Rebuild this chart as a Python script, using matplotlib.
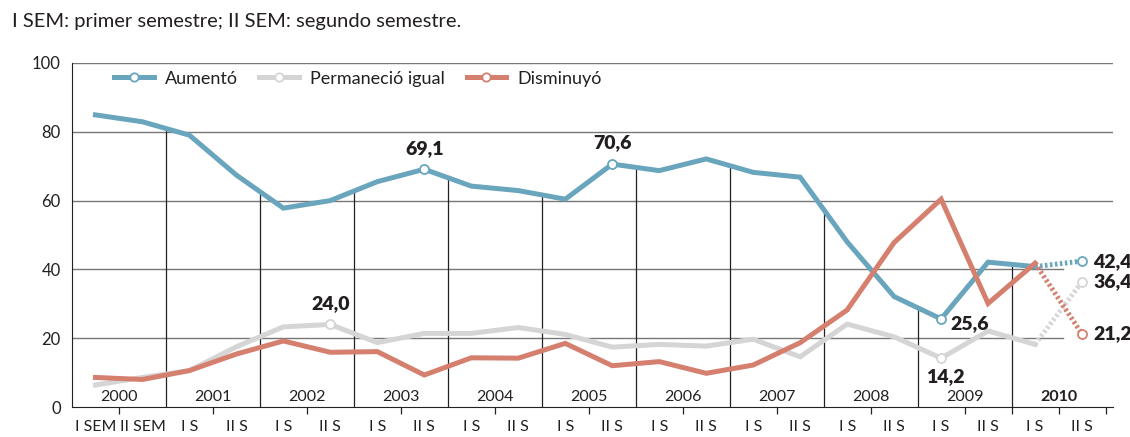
import matplotlib.pyplot as plt
import numpy as np

plt.rcParams['font.family'] = ['Lato', 'DejaVu Sans']

# semester labels along the bottom
sem_labels = ['I SEM', 'II SEM'] + ['I S', 'II S'] * 10
years = ['2000', '2001', '2002', '2003', '2004', '2005', '2006', '2007', '2008', '2009', '2010']

aumento = [84.9, 82.9, 79.0, 67.4, 57.8, 60.0, 65.5, 69.1, 64.2, 62.9, 60.4,
           70.6, 68.7, 72.1, 68.2, 66.8, 48.0, 32.1, 25.6, 42.1, 40.8, 42.4]
igual = [6.4, 8.6, 10.6, 17.5, 23.3, 24.0, 18.7, 21.4, 21.4, 23.1, 21.1,
         17.4, 18.2, 17.7, 19.7, 14.6, 24.1, 20.4, 14.2, 22.1, 18.2, 36.4]
disminuyo = [8.6, 8.0, 10.6, 15.4, 19.2, 15.9, 16.1, 9.3, 14.3, 14.2, 18.5,
             12.0, 13.2, 9.8, 12.2, 18.7, 28.2, 47.8, 60.4, 30.1, 41.8, 21.2]

BLUE = '#69a5bd'
GRAY = '#d5d5d5'
RED = '#d5806f'
TXT = '#231f20'

x = np.arange(len(sem_labels))

fig = plt.figure(figsize=(11.3, 4.37), dpi=100)
ax = fig.add_axes([0.0637, 0.0686, 0.9213, 0.7874])
ax.set_xlim(-0.5, 21.66)
ax.set_ylim(0, 100)

# horizontal grid lines (the lower ones stop before the end labels)
for yv in [60, 80, 100]:
    ax.axhline(yv, color='#777777', lw=1, zorder=1)
for yv in [20, 40]:
    ax.plot([-0.5, 20.6], [yv, yv], color='#777777', lw=1, zorder=1)

# year separators go up to the blue line
for k in range(1, len(years)):
    xb = 2 * k - 0.5
    top = np.interp(xb, x, aumento)
    ax.plot([xb, xb], [0, top], color='#222222', lw=0.9, zorder=1.5)

for k, yr in enumerate(years):
    ax.text(2 * k + 0.5 if k < 10 else 20.5, 3, yr, ha='center', va='center',
            fontsize=11.5, color=TXT, fontweight='bold' if yr == '2010' else 'normal')

series = [(aumento, BLUE, 'Aumentó'), (igual, GRAY, 'Permaneció igual'),
          (disminuyo, RED, 'Disminuyó')]
for vals, col, lab in series:
    ax.plot(x[:21], vals[:21], color=col, lw=3.6, solid_joinstyle='miter', zorder=3)
    ax.plot(x[20:], vals[20:], color=col, lw=3.6, dashes=(0.5, 0.5), zorder=3)
    ax.plot([], [], color=col, lw=3.6, marker='o', ms=6, mfc='white', mew=1.3,
            label=lab)

# highlighted points
marks = [(aumento, 7, BLUE), (aumento, 11, BLUE), (aumento, 18, BLUE), (aumento, 21, BLUE),
         (igual, 5, GRAY), (igual, 18, GRAY), (igual, 21, GRAY), (disminuyo, 21, RED)]
for vals, i, col in marks:
    ax.plot(x[i], vals[i], 'o', ms=6.5, mfc='white', mec=col, mew=1.3, zorder=4)

def lab(v):
    return f'{v:.1f}'.replace('.', ',')

fs = 14
fw = 'heavy'
ax.annotate(lab(aumento[7]), (x[7], aumento[7]), xytext=(0, 9), textcoords='offset points',
            ha='center', va='bottom', fontsize=fs, fontweight=fw, color=TXT)
ax.annotate(lab(aumento[11]), (x[11], aumento[11]), xytext=(0, 9), textcoords='offset points',
            ha='center', va='bottom', fontsize=fs, fontweight=fw, color=TXT)
ax.annotate(lab(igual[5]), (x[5], igual[5]), xytext=(0, 9), textcoords='offset points',
            ha='center', va='bottom', fontsize=fs, fontweight=fw, color=TXT)
ax.annotate(lab(aumento[18]), (x[18], aumento[18]), xytext=(7, -3), textcoords='offset points',
            ha='left', va='center', fontsize=fs, fontweight=fw, color=TXT)
ax.annotate(lab(igual[18]), (x[18], igual[18]), xytext=(3, -7), textcoords='offset points',
            ha='center', va='top', fontsize=fs, fontweight=fw, color=TXT)
for vals in [aumento, igual, disminuyo]:
    ax.annotate(lab(vals[21]), (x[21], vals[21]), xytext=(8, 0), textcoords='offset points',
                ha='left', va='center', fontsize=fs, fontweight=fw, color=TXT,
                annotation_clip=False)

# axes styling
for s in ['top', 'right']:
    ax.spines[s].set_visible(False)
ax.spines['left'].set_color('#222222')
ax.spines['bottom'].set_color('#222222')
ax.set_yticks([0, 20, 40, 60, 80, 100])
ax.tick_params(axis='y', length=0, labelsize=12, colors=TXT, pad=8)
ax.set_xticks(x)
ax.set_xticklabels(sem_labels)
ax.set_xticks([0.5, 2.5, 4.5, 6.5, 8.5, 10.5, 12.5, 14.5, 16.5, 18.5, 19.5, 20.5, 21.5],
              minor=True)
ax.tick_params(axis='x', which='major', length=0, labelsize=11.5, colors=TXT, pad=9)
ax.tick_params(axis='x', which='minor', length=5, width=0.9, color='#222222')

ax.legend(loc='upper left', bbox_to_anchor=(0.025, 1.025), ncol=3, frameon=False,
          fontsize=13, handlelength=2.2, columnspacing=1.2, handletextpad=0.6,
          numpoints=1, labelcolor=TXT)

fig.text(0.011, 0.95, 'I SEM: primer semestre; II SEM: segundo semestre.',
         fontsize=14.5, color=TXT, ha='left', va='center')

fig.savefig('out.png', dpi=100)
